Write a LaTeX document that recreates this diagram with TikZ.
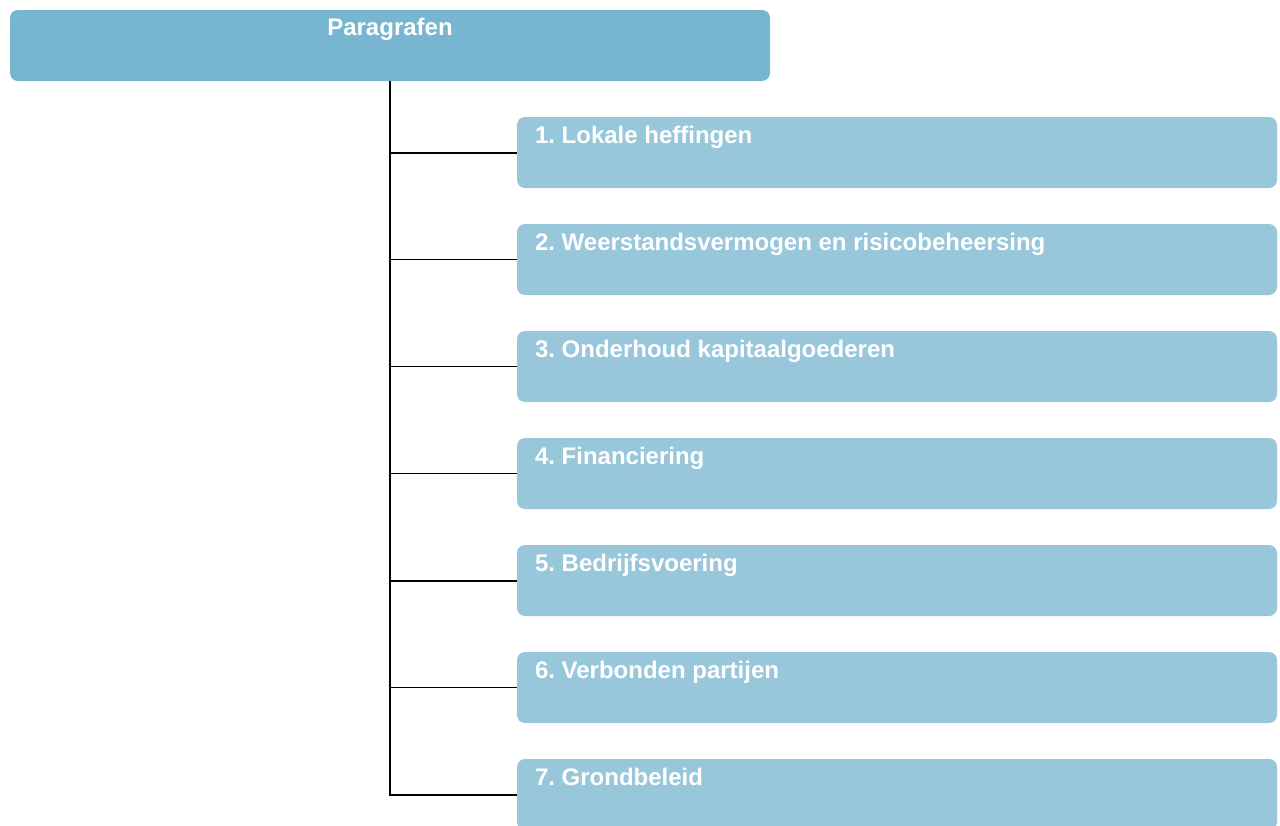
\documentclass[tikz,border=0pt]{standalone}
\usepackage{fontspec}
\setmainfont{Liberation Sans}
\usepackage{tikz}
\usetikzlibrary{positioning}

\definecolor{headblue}{HTML}{77B5D1}
\definecolor{subblue}{HTML}{98C7DB}

\begin{document}
\frenchspacing
\begin{tikzpicture}[
            x=0.75pt, y=-0.75pt,
            head node/.style={rectangle,rounded corners=6pt,fill=headblue,draw=none,minimum width=570pt,minimum height=53.25pt,inner sep=0pt},
            sub node/.style={rectangle,rounded corners=6pt,fill=subblue,draw=none,minimum width=570pt,minimum height=53.25pt,inner sep=0pt},
            box text/.style={text=white,font=\fontsize{18}{21}\selectfont\bfseries,inner sep=0pt},
            thick line/.style={line width=1.5pt},
            thin line/.style={line width=0.75pt},
            ]
            \useasboundingbox (0,0) rectangle (1280,825);
            \clip (0,0) rectangle (1280,825);

            \node[head node] (head) at (390,45.5) {};
            \node[sub node] (s1) at (897,152.5) {};
            \node[sub node] (s2) at (897,259.5) {};
            \node[sub node] (s3) at (897,366.5) {};
            \node[sub node] (s4) at (897,473.5) {};
            \node[sub node] (s5) at (897,580.5) {};
            \node[sub node] (s6) at (897,687.5) {};
            \node[sub node] (s7) at (897,794.5) {};

            \node[box text, anchor=base] (thead) at ([yshift=-19.5pt]head.north) {Paragrafen};
            \node[box text, anchor=base west] (t1) at ([shift={(13.5pt,-19.9pt)}]s1.north west) {1. Lokale heffingen};
            \node[box text, anchor=base west] (t2) at ([shift={(13.5pt,-19.9pt)}]s2.north west) {2. Weerstandsvermogen en risicobeheersing};
            \node[box text, anchor=base west] (t3) at ([shift={(13.5pt,-19.9pt)}]s3.north west) {3. Onderhoud kapitaalgoederen};
            \node[box text, anchor=base west] (t4) at ([shift={(13.5pt,-19.9pt)}]s4.north west) {4. Financiering};
            \node[box text, anchor=base west] (t5) at ([shift={(13.5pt,-19.9pt)}]s5.north west) {5. Bedrijfsvoering};
            \node[box text, anchor=base west] (t6) at ([shift={(13.5pt,-19.9pt)}]s6.north west) {6. Verbonden partijen};
            \node[box text, anchor=base west] (t7) at ([shift={(13.5pt,-19.9pt)}]s7.north west) {7. Grondbeleid};

            \draw[thick line] (head.south) -- (head.south |- s7.west);
            \draw[thick line] (head.south |- s1.west) -- (s1.west);
            \draw[thin line] (head.south |- s2.west) -- (s2.west);
            \draw[thin line] (head.south |- s3.west) -- (s3.west);
            \draw[thin line] (head.south |- s4.west) -- (s4.west);
            \draw[thick line] (head.south |- s5.west) -- (s5.west);
            \draw[thin line] (head.south |- s6.west) -- (s6.west);
            \draw[thick line] ([xshift=-0.75pt]head.south |- s7.west) -- (s7.west);
        \end{tikzpicture}
\end{document}
